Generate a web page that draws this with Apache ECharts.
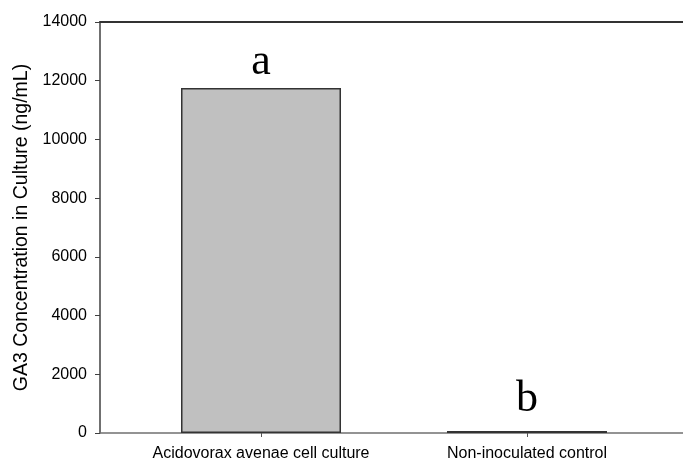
<!DOCTYPE html>
<html>
<head>
<meta charset="utf-8">
<script src="https://cdn.jsdelivr.net/npm/echarts@6/dist/echarts.min.js"></script>
<style>html,body{margin:0;padding:0;background:#fff;}#c{width:683px;height:462px;}</style>
</head>
<body>
<div id="c"></div>
<script>
var categories = ['Acidovorax avenae cell culture', 'Non-inoculated control'];
var values = [11750, 70];
var letters = ['a', 'b'];
var yTicks = [0, 2000, 4000, 6000, 8000, 10000, 12000, 14000];
var positions = [1, 2];
var letterGap = [4, 10];

var chart = echarts.init(document.getElementById('c'), null, {renderer: 'canvas'});
chart.setOption({
  animation: false,
  backgroundColor: '#ffffff',
  grid: {left: 100, right: 0, top: 22, bottom: 29, containLabel: false},
  xAxis: [{
    type: 'value',
    min: 0.3947,
    max: 2.5865,
    position: 'bottom',
    splitLine: {show: false},
    axisLine: {show: true, onZero: false, lineStyle: {color: '#707070', width: 1.5}},
    axisTick: {show: true, inside: false, length: 4, customValues: positions, lineStyle: {color: '#555', width: 1}},
    axisLabel: {
      show: true, customValues: positions, margin: 13,
      fontFamily: 'Arial, Liberation Sans, sans-serif', fontSize: 16, color: '#000',
      formatter: function (v) { var i = positions.indexOf(Math.round(v)); return i >= 0 ? categories[i] : ''; }
    }
  }, {
    type: 'value',
    min: 0, max: 1,
    position: 'top',
    splitLine: {show: false},
    axisLine: {show: true, onZero: false, lineStyle: {color: '#333', width: 2}},
    axisTick: {show: false},
    axisLabel: {show: false}
  }],
  yAxis: {
    type: 'value',
    min: yTicks[0],
    max: yTicks[yTicks.length - 1],
    interval: 2000,
    name: 'GA3 Concentration in Culture (ng/mL)',
    nameLocation: 'middle',
    nameGap: 68,
    nameTextStyle: {fontFamily: 'Arial, Liberation Sans, sans-serif', fontSize: 19.5, color: '#000'},
    splitLine: {show: false},
    axisLine: {show: true, lineStyle: {color: '#404040', width: 1.5}},
    axisTick: {show: true, inside: false, length: 5, lineStyle: {color: '#404040', width: 1}},
    axisLabel: {
      margin: 13, fontFamily: 'Arial, Liberation Sans, sans-serif', fontSize: 16, color: '#000',
      formatter: function (v) { return String(v); }
    }
  },
  series: [{
    type: 'bar',
    xAxisIndex: 0,
    barWidth: 160,
    itemStyle: {color: '#c0c0c0', borderColor: '#333', borderWidth: 1.5},
    label: {
      show: true, position: 'top',
      fontFamily: 'Liberation Serif, Times New Roman, serif', fontSize: 44, color: '#000',
      formatter: function (p) { return letters[p.dataIndex]; }
    },
    data: values.map(function (v, i) {
      return {value: [positions[i], v], label: {distance: letterGap[i]}};
    })
  }]
});
</script>
</body>
</html>
